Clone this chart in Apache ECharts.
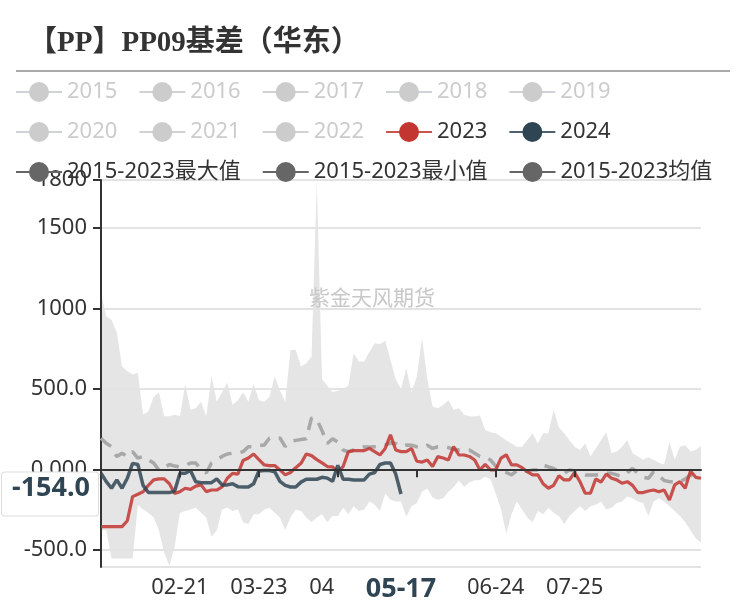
<!DOCTYPE html>
<html>
<head>
<meta charset="utf-8">
<script src="https://cdn.jsdelivr.net/npm/echarts@6/dist/echarts.min.js"></script>
<style>html,body{margin:0;padding:0;background:#fff;}#c{width:746px;height:611px;}</style>
</head>
<body>
<div id="c"></div>
<script>
// ---- categories (trading dates, MM-DD) ----
const categories = [
'01-22','01-23','01-24','01-25','01-26','01-27','01-28','01-29','01-30','01-31',
'02-01','02-02','02-03','02-04','02-05','02-06','02-07','02-08','02-09','02-10','02-11','02-12','02-13','02-14','02-15','02-16','02-17','02-18','02-19','02-20','02-21','02-22','02-23','02-24','02-25','02-26','02-27','02-28',
'03-01','03-02','03-03','03-04','03-05','03-06','03-07','03-08','03-09','03-10','03-11','03-12','03-13','03-14','03-15','03-16','03-17','03-18','03-19','03-20','03-21','03-22','03-23','03-24','03-25','03-26','03-27','03-28','03-29','03-30','03-31',
'04-01','04-02','04-03','04-04','04-05','04-06','04-07','04-08','04-09','04-10','04-11','04-12','04-13','04-14','04-15','04-16','04-17','04-18','04-19','04-20','04-21','04-22','04-23','04-24','04-25','04-26','04-27','04-28','04-29','04-30',
'05-02','05-03','05-04','05-05','05-06','05-07','05-08','05-09','05-10','05-11','05-12','05-13','05-14','05-15','05-16','05-17','05-18','05-19','05-20','05-21','05-22','05-23','05-24','05-25','05-26','05-27','05-28','05-29','05-30','05-31',
'06-01','06-02','06-03','06-04','06-05','06-06','06-07','06-08','06-09','06-12','06-13','06-14','06-15','06-16','06-17','06-18','06-19','06-20','06-21','06-22','06-23','06-24','06-25','06-26','06-27','06-28','06-29','06-30',
'07-02','07-03','07-04','07-05','07-06','07-07','07-08','07-09','07-10','07-11','07-12','07-13','07-14','07-15','07-16','07-17','07-18','07-19','07-20','07-21','07-22','07-23','07-24','07-25','07-26','07-27','07-28','07-29','07-30','07-31',
'08-01','08-02','08-03','08-04','08-05','08-06','08-07','08-08','08-09','08-10','08-11','08-12','08-13','08-14','08-15','08-16','08-17','08-18','08-19','08-20','08-21','08-22','08-23','08-24','08-25','08-26','08-27','08-28','08-29','08-30','08-31',
'09-01','09-02','09-03','09-04','09-05','09-06','09-07','09-08','09-09','09-10','09-11'
];
// values sampled every second category (categories[0], [2], [4], ...)
const maxVals = [
1100,950,930,850,640,610,590,600,340,360,
450,480,330,330,340,330,530,370,380,420,
330,580,420,480,540,400,430,480,420,530,
430,420,450,577,490,420,743,743,640,660,
700,1790,560,520,480,490,500,520,720,670,
670,730,785,780,800,680,560,500,628,480,
577,815,560,390,380,400,430,370,380,340,
330,328,335,245,230,224,203,180,160,141,
141,182,224,160,224,224,369,260,224,180,
140,120,160,80,130,180,230,100,110,140,
182,100,80,60,75,60,40,30,170,60,
140,150,110,120,145
];
const minVals = [
-380,-380,-555,-555,-555,-555,-555,-220,-250,-270,
-300,-380,-520,-600,-480,-270,-260,-250,-240,-270,
-300,-420,-380,-250,-240,-260,-250,-330,-340,-280,
-280,-250,-240,-270,-300,-377,-300,-250,-260,-300,
-330,-300,-280,-330,-290,-290,-240,-280,-230,-260,
-250,-200,-220,-260,-150,-190,-200,-200,-295,-230,
-210,-140,-120,-175,-190,-180,-140,-110,-70,-110,
-80,-70,-66,-46,-60,-150,-250,-400,-280,-200,
-250,-300,-330,-260,-280,-240,-270,-290,-340,-290,
-260,-230,-260,-230,-220,-200,-250,-240,-210,-200,
-170,-180,-200,-210,-290,-200,-180,-200,-230,-260,
-290,-330,-380,-430,-455
];
const meanVals = [
193,162,141,79,100,79,110,70,80,60,
39,-4,10,30,20,15,25,39,39,0,
-23,39,60,80,95,100,100,110,140,140,
150,150,193,195,195,141,175,180,185,190,
320,310,240,160,190,170,120,108,120,130,
139,139,141,141,150,163,160,141,151,150,
140,135,150,130,140,140,135,125,120,120,
120,100,80,77,58,20,-10,-20,-35,-10,
-4,-15,-4,-4,27,15,5,-15,-25,-4,
-10,-20,-35,-35,-35,-30,-25,-25,-35,-46,
-20,5,-25,-50,-56,-15,-40,-70,-77,-77,
-77,-60,-35,-50,-56
];
const vals2023 = [
-357,-357,-357,-357,-357,-320,-170,-155,-140,-100,
-66,-60,-60,-90,-150,-139,-118,-125,-105,-97,
-139,-129,-129,-110,-56,-25,-30,55,70,95,
60,27,23,23,-4,-35,-20,10,37,95,
85,60,40,17,15,-15,17,110,116,116,
116,130,110,89,130,214,120,110,110,130,
50,45,58,17,79,70,58,141,89,89,
80,58,-4,30,-4,-4,70,90,27,27,
10,-15,-35,-35,-90,-118,-100,-40,-66,-66,
-20,-77,-149,-149,-60,-80,-30,-56,-66,-87,
-77,-100,-145,-145,-135,-129,-140,-129,-191,-97,
-77,-118,-10,-50,-56
];
const vals2024 = [
-25,-77,-118,-66,-118,-56,37,30,-100,-145,
-145,-145,-145,-145,-135,-25,-25,-8,-77,-83,
-83,-83,-60,-97,-97,-90,-108,-110,-110,-90,
-10,-8,-8,-15,-75,-100,-110,-110,-80,-62,
-62,-62,-50,-55,-75,25,-62,-62,-66,-66,
-66,-30,-20,30,39,39,-30,-154
];
const yearNames = ['2015','2016','2017','2018','2019','2020','2021','2022','2023','2024'];
const statNames = ['2015-2023最大值','2015-2023最小值','2015-2023均值'];
const tickDates = ['02-21','03-23','04-22','05-23','06-24','07-25'];
const latestDate = '05-17';
const latestValue = vals2024[vals2024.length - 1];

const F = "'Noto Sans','Noto Sans CJK SC',sans-serif";
const pairs = vals => vals.map((v, i) => [categories[2 * i], v]);
const bandVals = maxVals.map((v, i) => v - minVals[i]);
const showTick = (idx, val) => tickDates.indexOf(val) >= 0;

const chart = echarts.init(document.getElementById('c'), null, {renderer: 'canvas'});

const legendCommon = {
  itemWidth: 46, itemHeight: 25, itemGap: 21,
  inactiveColor: '#ccc',
  textStyle: {fontSize: 22, color: '#333', fontFamily: F}
};
const hidden = {};
yearNames.slice(0, 8).forEach(n => hidden[n] = false);

const series = [];
yearNames.slice(0, 8).forEach(n => series.push({name: n, type: 'line', data: [], symbol: 'circle'}));
series.push({
  name: statNames[1], type: 'line', stack: 'band', stackStrategy: 'all', data: pairs(minVals),
  symbol: 'circle', showSymbol: false, itemStyle: {color: '#666'},
  lineStyle: {opacity: 0}, z: 1, silent: true
});
series.push({
  name: statNames[0], type: 'line', stack: 'band', stackStrategy: 'all', data: pairs(bandVals),
  symbol: 'circle', showSymbol: false, itemStyle: {color: '#666'},
  lineStyle: {opacity: 0}, areaStyle: {color: '#e5e5e5', opacity: 1}, z: 1, silent: true
});
series.push({
  name: statNames[2], type: 'line', data: pairs(meanVals),
  symbol: 'circle', showSymbol: false, itemStyle: {color: '#666'},
  lineStyle: {color: '#a8a8a8', width: 3.5, type: [13, 9]}, z: 3
});
series.push({
  name: '2023', type: 'line', data: pairs(vals2023),
  symbol: 'circle', showSymbol: false, itemStyle: {color: '#c23531'},
  lineStyle: {color: '#c23531', width: 3.2, opacity: 0.85}, z: 4
});
series.push({
  name: '2024', type: 'line', data: pairs(vals2024),
  symbol: 'circle', showSymbol: false, itemStyle: {color: '#2f4554'},
  lineStyle: {color: '#2f4554', width: 3.5, opacity: 0.85}, z: 5
});

const option = {
  animation: false,
  backgroundColor: '#fff',
  title: {
    text: '【PP】PP09基差（华东）', left: 23, top: 24,
    textStyle: {fontSize: 29, fontWeight: 'bold', color: '#333', fontFamily: "'Liberation Serif','Noto Sans CJK SC',serif"}
  },
  graphic: [
    {type: 'line', shape: {x1: 16, y1: 71, x2: 730, y2: 71}, style: {stroke: '#aaa', lineWidth: 2}, z: 10},
    {type: 'text', x: 372, y: 297, style: {text: '紫金天风期货', fill: '#c8c8c8', font: "21px 'Noto Sans CJK SC'", textAlign: 'center', textVerticalAlign: 'middle'}, z: 10}
  ],
  legend: [
    Object.assign({}, legendCommon, {left: 10, top: 76, data: yearNames.slice(0, 5), selected: hidden}),
    Object.assign({}, legendCommon, {left: 10, top: 116, data: yearNames.slice(5), selected: hidden}),
    Object.assign({}, legendCommon, {left: 10, top: 156, data: statNames.map(n => ({
      name: n, itemStyle: {color: '#666'}, lineStyle: {color: '#666', opacity: 1, type: 'solid', width: 2}
    }))})
  ],
  grid: {left: 101, right: 45, top: 180, bottom: 44, containLabel: false},
  xAxis: [
    {
      type: 'category', data: categories, boundaryGap: false, position: 'top', z: 6,
      axisLine: {onZero: true, lineStyle: {color: '#333', width: 2}},
      axisTick: {show: true, inside: true, length: 8, interval: showTick, lineStyle: {color: '#333', width: 2}},
      axisLabel: {show: false}, splitLine: {show: false}
    },
    {
      type: 'category', data: categories, boundaryGap: false, position: 'bottom',
      axisLine: {show: false, onZero: false}, axisTick: {show: false},
      axisLabel: {interval: showTick, fontSize: 22, color: '#333', fontFamily: F, margin: 10},
      splitLine: {show: false},
      axisPointer: {
        show: true, type: 'line', value: latestDate, status: 'show', triggerTooltip: false,
        lineStyle: {opacity: 0}, handle: {show: false},
        label: {show: true, backgroundColor: '#fff', color: '#2f4554', fontWeight: 'bold', fontSize: 27, fontFamily: F, padding: [2, 32], margin: 7}
      }
    }
  ],
  yAxis: {
    type: 'value', min: -608, max: 1800, z: 2,
    axisLine: {show: true, lineStyle: {color: '#333', width: 2}},
    axisTick: {show: true, length: 8, lineStyle: {color: '#333', width: 2}},
    axisLabel: {fontSize: 22, color: '#333', fontFamily: F, margin: 14, showMinLabel: false,
      formatter: v => Number(v).toPrecision(4)},
    splitLine: {lineStyle: {color: '#e3e3e3', width: 2}},
    axisPointer: {
      show: true, type: 'line', value: latestValue, status: 'show', triggerTooltip: false,
      lineStyle: {opacity: 0}, handle: {show: false},
      label: {show: true, backgroundColor: '#fff', borderColor: '#ddd', borderWidth: 1,
        color: '#2f4554', fontWeight: 'bold', fontSize: 27, fontFamily: F, padding: [2, 8, 14, 10],
        formatter: p => Number(p.value).toPrecision(4)}
    }
  },
  series: series
};
chart.setOption(option);
</script>
</body>
</html>
